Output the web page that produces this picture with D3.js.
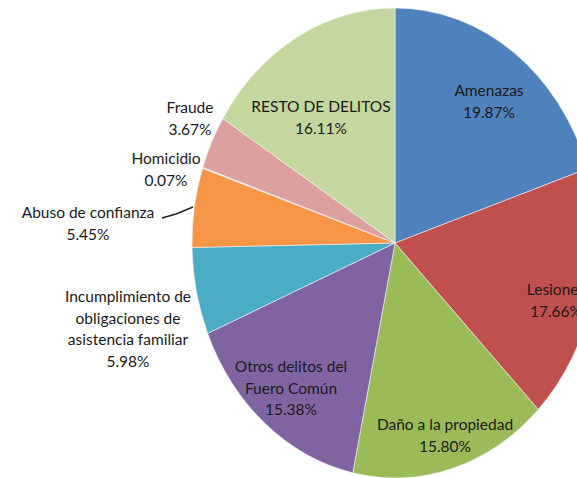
<!DOCTYPE html>
<html>
<head>
<meta charset="utf-8">
<script src="https://cdn.jsdelivr.net/npm/d3@7"></script>
<style>
  body { margin: 0; background: #fff; }
  svg { display: block; }
  text { font-family: Lato, "Open Sans", sans-serif; font-size: 15.5px; fill: #1a1a1a; }
</style>
</head>
<body>
<script>
// delitos, en orden de las manecillas del reloj desde arriba
var categories = ['Amenazas', 'Lesiones', 'Daño a la propiedad', 'Otros delitos del Fuero Común',
    'Incumplimiento de obligaciones de asistencia familiar', 'Abuso de confianza',
    'Homicidio', 'Fraude', 'RESTO DE DELITOS'];
var values = [19.87, 17.66, 15.80, 15.38, 5.98, 5.45, 0.07, 3.67, 16.11];
var colors = ['#4f81bd', '#c0504d', '#9bbb59', '#8064a2', '#4bacc6', '#f79646',
    '#f2dcdb', '#dba09f', '#c4d79e'];

// label lines as drawn in the picture
var labelLines = [
    ['Amenazas', '19.87%'],
    ['Lesiones', '17.66%'],
    ['Daño a la propiedad', '15.80%'],
    ['Otros delitos del', 'Fuero Común', '15.38%'],
    ['Incumplimiento de', 'obligaciones de', 'asistencia familiar', '5.98%'],
    ['Abuso de confianza', '5.45%'],
    ['Homicidio', '0.07%'],
    ['Fraude', '3.67%'],
    ['RESTO DE DELITOS', '16.11%']
];
var labelPos = [[489, 91], [556, 290], [445, 425], [291, 367], [128, 297],
    [88, 213], [166, 159], [190, 108], [321, 107]];

var width = 577,
    height = 478,
    cx = 395, cy = 243,
    rx = 203, ry = 235;

var svg = d3.select('body')
    .append('svg')
    .attr('width', width)
    .attr('height', height);

var pie = d3.pie()
    .sort(null)
    .value(function(d) { return d; });

var arc = d3.arc()
    .innerRadius(0)
    .outerRadius(rx);

var g = svg.append('g')
    .attr('transform', 'translate(' + cx + ',' + cy + ') scale(1,' + (ry / rx) + ')');

g.selectAll('.slice')
    .data(pie(values))
    .enter()
    .append('path')
    .attr('class', 'slice')
    .attr('d', arc)
    .attr('fill', function(d, i) { return colors[i]; })
    .attr('stroke', '#f4f4f4')
    .attr('stroke-width', 0.6)
    .attr('vector-effect', 'non-scaling-stroke');

// leader line for Abuso de confianza
svg.append('path')
    .attr('d', 'M162,218 L176,214 L193,207')
    .attr('fill', 'none')
    .attr('stroke', '#222')
    .attr('stroke-width', 1.5);

var lineH = 21.5;
var labels = svg.selectAll('.label')
    .data(labelLines)
    .enter()
    .append('text')
    .attr('class', 'label')
    .attr('text-anchor', 'middle')
    .attr('x', function(d, i) { return labelPos[i][0]; })
    .attr('y', function(d, i) { return labelPos[i][1]; });

labels.selectAll('tspan')
    .data(function(d, i) { return d.map(function(t) { return { t: t, i: i }; }); })
    .enter()
    .append('tspan')
    .attr('x', function(d) { return labelPos[d.i][0]; })
    .attr('dy', function(d, j) { return j === 0 ? '0.35em' : lineH; })
    .text(function(d) { return d.t; });
</script>
</body>
</html>
